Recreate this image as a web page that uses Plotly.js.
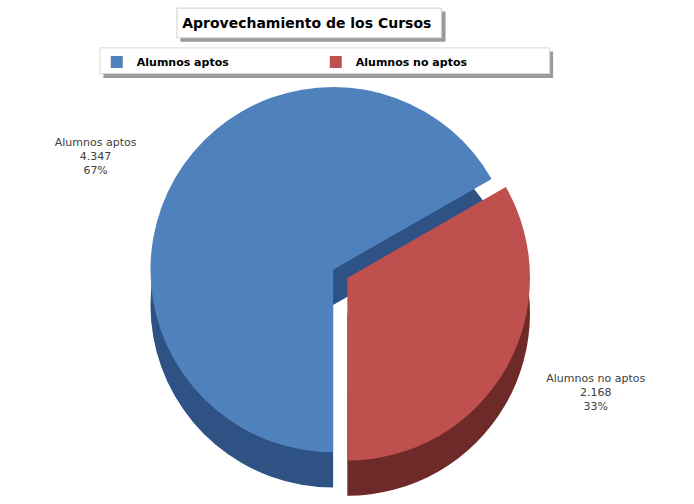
<!DOCTYPE html>
<html>
<head>
<meta charset="utf-8">
<script src="https://cdn.plot.ly/plotly-3.0.1.min.js"></script>
<style>html,body{margin:0;padding:0;background:#fff;}#chart{width:694px;height:504px;}</style>
</head>
<body>
<div id="chart"></div>
<script>
var categories = ["Alumnos aptos", "Alumnos no aptos"];
var values = [4347, 2168];
var topColors = ["#4F81BD", "#C0504D"];
var sideColors = ["#2E5283", "#6E2A28"];
var pulls = [0, 0.09];

var tmpl = "%{label}<br>%{value:,}<br>%{percent:.0%}";

var sideTrace = {
  type: "pie", labels: categories, values: values, sort: false,
  direction: "clockwise", rotation: 180, pull: pulls,
  marker: {colors: sideColors, line: {width: 0}},
  textinfo: "none",
  domain: {x: [0.0, 0.96], y: [0.0, 0.79]},
  showlegend: false, hoverinfo: "skip"
};
var topTrace = {
  type: "pie", labels: categories, values: values, sort: false,
  direction: "clockwise", rotation: 180, pull: pulls,
  marker: {colors: topColors, line: {width: 0}},
  textinfo: "none",
  domain: {x: [0.0, 0.96], y: [0.07, 0.86]},
  showlegend: true
};
var labelTrace = {
  type: "pie", labels: categories, values: values, sort: false,
  direction: "clockwise", rotation: 180, pull: pulls,
  marker: {colors: ["rgba(0,0,0,0)", "rgba(0,0,0,0)"], line: {width: 0}},
  texttemplate: tmpl, textposition: "outside",
  outsidetextfont: {family: "DejaVu Sans", size: 11, color: "#404040"},
  domain: {x: [0.0, 0.96], y: [0.0, 0.93]},
  showlegend: false, hoverinfo: "skip"
};

var layout = {
  width: 694, height: 504,
  margin: {l: 0, r: 0, t: 0, b: 0},
  paper_bgcolor: "#fff",
  separators: ",.",
  title: {text: "Aprovechamiento de los Cursos", x: 0.442, xanchor: "center", y: 0.955, yanchor: "middle",
          font: {family: "DejaVu Sans", size: 14, color: "#000", weight: "bold"}},
  legend: {orientation: "h", x: 0.455, xanchor: "center", y: 0.877, yanchor: "middle",
           bgcolor: "rgba(0,0,0,0)", entrywidth: 174, itemclick: false, itemwidth: 30,
           font: {family: "DejaVu Sans", size: 11, color: "#000", weight: "bold"}},
  shapes: [
    {type: "rect", xref: "paper", yref: "paper", x0: 0.260, x1: 0.642, y0: 0.917, y1: 0.977, fillcolor: "#9a9a9a", line: {width: 0}, layer: "below"},
    {type: "rect", xref: "paper", yref: "paper", x0: 0.255, x1: 0.636, y0: 0.925, y1: 0.984, fillcolor: "#fff", line: {width: 1, color: "#d0d0d0"}, layer: "below"},
    {type: "rect", xref: "paper", yref: "paper", x0: 0.149, x1: 0.797, y0: 0.845, y1: 0.898, fillcolor: "#9a9a9a", line: {width: 0}, layer: "below"},
    {type: "rect", xref: "paper", yref: "paper", x0: 0.144, x1: 0.792, y0: 0.854, y1: 0.905, fillcolor: "#fff", line: {width: 1, color: "#d8d8d8"}, layer: "below"}
  ]
};

Plotly.newPlot("chart", [sideTrace, topTrace, labelTrace], layout, {displayModeBar: false, staticPlot: true});
</script>
</body>
</html>
